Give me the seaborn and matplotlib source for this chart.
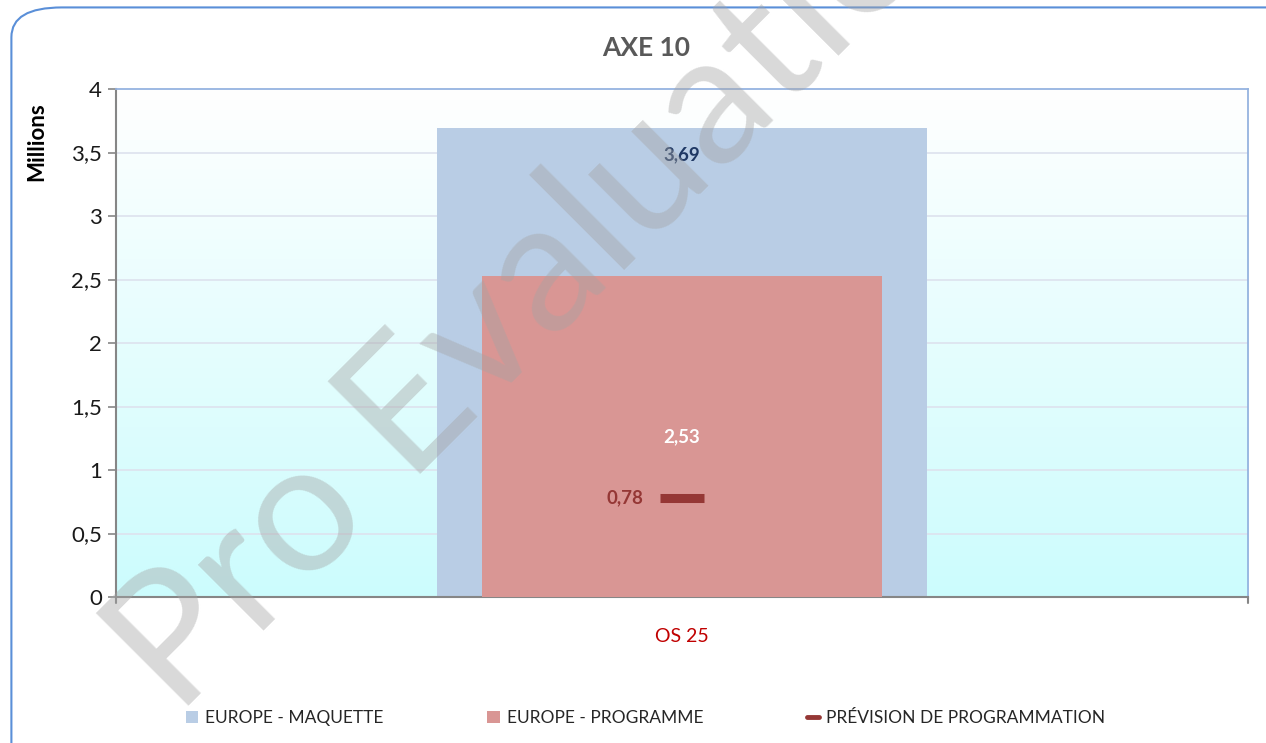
import numpy as np
import pandas as pd
import matplotlib.pyplot as plt
import seaborn as sns
from matplotlib.patches import Patch, FancyBboxPatch
from matplotlib.lines import Line2D
from matplotlib.colors import LinearSegmentedColormap

# données (en millions)
categories = ['OS 25']
maquette = [3.69]
programme = [2.53]
prevision = [0.78]
series_names = ['EUROPE - MAQUETTE', 'EUROPE - PROGRAMME', 'PRÉVISION DE PROGRAMMATION']
y_ticks = [0, 0.5, 1, 1.5, 2, 2.5, 3, 3.5, 4]

df = pd.DataFrame({'cat': categories, 'maquette': maquette,
                   'programme': programme, 'prevision': prevision})

sns.set_style('white')
plt.rcParams['font.family'] = ['Lato', 'DejaVu Sans']

fig = plt.figure(figsize=(12.66, 7.43), dpi=100)
fig.patch.set_facecolor('white')

# cadre arrondi
frame = FancyBboxPatch((0.009, -0.05), 1.2, 1.04, boxstyle='round,pad=0,rounding_size=0.04',
                       transform=fig.transFigure, facecolor='none', edgecolor='#5a8fd8',
                       linewidth=1.5, zorder=0)
fig.patches.append(frame)

ax = fig.add_axes([0.0916, 0.1965, 0.8942, 0.6837])

# fond dégradé
cmap = LinearSegmentedColormap.from_list('bg', ['#ffffff', '#ccfcfd'])
grad = np.linspace(0, 1, 256).reshape(-1, 1)
ax.imshow(grad, aspect='auto', cmap=cmap, extent=[0, 1, 0, 1],
          transform=ax.transAxes, zorder=0)

for t in y_ticks[1:-1]:
    ax.axhline(t, color='#dde2ee', linewidth=1.2, zorder=1)

sns.barplot(data=df, x='cat', y='maquette', color='#b9cde5', width=0.433,
            saturation=1, ax=ax, zorder=2, linewidth=0, edgecolor='none')
sns.barplot(data=df, x='cat', y='programme', color='#d99694', width=0.353,
            saturation=1, ax=ax, zorder=3, linewidth=0, edgecolor='none')
sns.scatterplot(data=df, x='cat', y='prevision', marker='_', s=960, linewidth=6.5,
                color='#953735', ax=ax, zorder=4, legend=False)

ax.set_xlim(-0.5, 0.5)
ax.set_ylim(0, 4)
ax.set_yticks(y_ticks)
ax.set_yticklabels([f'{v:g}'.replace('.', ',') for v in y_ticks], fontsize=16, color='#1a1a1a')
ax.set_xticks([0])
ax.set_xticklabels(categories, fontsize=14, color='#c00000')
ax.tick_params(axis='x', length=0, pad=22)
ax.tick_params(axis='y', length=6, width=1.2, color='#868686', direction='out', left=True, pad=4)
ax.set_xlabel('')
ax.set_ylabel('')

for side in ['left', 'bottom']:
    ax.spines[side].set_color('#868686')
    ax.spines[side].set_linewidth(1.5)
for side in ['top', 'right']:
    ax.spines[side].set_color('#95b3e0')
    ax.spines[side].set_linewidth(1.3)
# petits traits aux bords de catégorie
ax.plot([1, 1], [0, -0.012], transform=ax.transAxes, color='#868686', lw=1.5, clip_on=False)
ax.plot([0, 0], [0, -0.012], transform=ax.transAxes, color='#868686', lw=1.5, clip_on=False)

# étiquettes de données
ax.text(0, maquette[0] - 0.21, f'{maquette[0]:.2f}'.replace('.', ','), ha='center', va='center',
        fontsize=13.5, fontweight='bold', color='#1f3864', zorder=5)
ax.text(0, programme[0] / 2, f'{programme[0]:.2f}'.replace('.', ','), ha='center', va='center',
        fontsize=13.5, fontweight='bold', color='white', zorder=5)
ax.text(-0.034, prevision[0], f'{prevision[0]:.2f}'.replace('.', ','), ha='right', va='center',
        fontsize=13.5, fontweight='bold', color='#953735', zorder=5)

fig.text(0.51, 0.935, 'AXE 10', ha='center', va='center', fontsize=19,
         fontweight='bold', color='#595959')
fig.text(0.029, 0.81, 'Millions', ha='center', va='center', rotation=90,
         fontsize=16, fontweight='bold', color='black')

handles = [Patch(facecolor='#b9cde5', edgecolor='none'),
           Patch(facecolor='#d99694', edgecolor='none'),
           Line2D([0], [0], color='#953735', lw=3.5)]
fig.legend(handles, series_names, loc='center', bbox_to_anchor=(0.51, 0.033), ncol=3,
           frameon=False, fontsize=12.5, columnspacing=6.0, handlelength=0.7,
           handleheight=0.7, handletextpad=0.4)

# filigrane
fig.text(0.14, 0.035, 'Pro Evaluation', rotation=45, rotation_mode='anchor',
         ha='left', va='baseline', fontsize=132, color='#a4a4a4', alpha=0.42, zorder=10)

fig.savefig('out.png', dpi=100)
